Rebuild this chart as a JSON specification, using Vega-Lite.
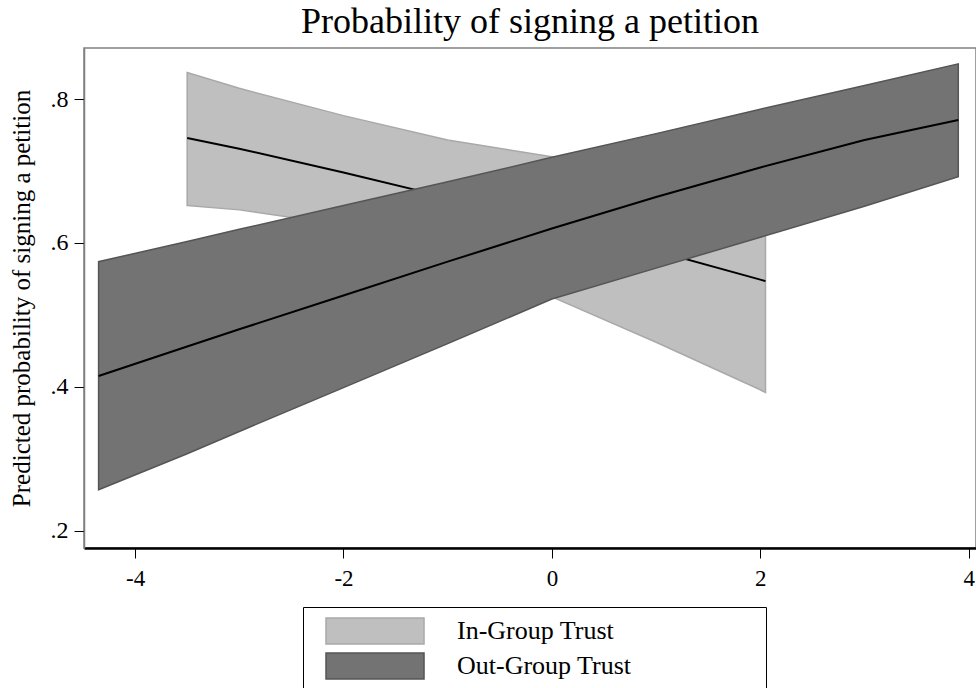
{
  "$schema": "https://vega.github.io/schema/vega-lite/v6.json",
  "width": 892,
  "height": 500,
  "autosize": {"type": "none"},
  "padding": {"left": 84, "top": 48, "right": 0, "bottom": 140},
  "background": "white",
  "config": {
    "font": "Liberation Serif",
    "view": {"stroke": "#808080", "strokeWidth": 1.5},
    "axis": {"grid": false, "labelFont": "Liberation Serif", "titleFont": "Liberation Serif", "labelColor": "black", "titleColor": "black", "tickColor": "black", "titleFontWeight": "normal"}
  },
  "title": {"text": "Probability of signing a petition", "font": "Liberation Serif", "fontSize": 36, "fontWeight": "normal", "color": "black", "offset": 7},
  "data": {"values": [
    {"group": "In-Group Trust", "x": -3.5, "lo": 0.652, "p": 0.746, "hi": 0.837},
    {"group": "In-Group Trust", "x": -3, "lo": 0.646, "p": 0.731, "hi": 0.815},
    {"group": "In-Group Trust", "x": -2, "lo": 0.625, "p": 0.698, "hi": 0.777},
    {"group": "In-Group Trust", "x": -1, "lo": 0.58, "p": 0.663, "hi": 0.743},
    {"group": "In-Group Trust", "x": 0, "lo": 0.525, "p": 0.627, "hi": 0.72},
    {"group": "In-Group Trust", "x": 1, "lo": 0.462, "p": 0.589, "hi": 0.703},
    {"group": "In-Group Trust", "x": 2, "lo": 0.396, "p": 0.549, "hi": 0.695},
    {"group": "In-Group Trust", "x": 2.05, "lo": 0.392, "p": 0.547, "hi": 0.694},
    {"group": "Out-Group Trust", "x": -4.35, "lo": 0.257, "p": 0.415, "hi": 0.574},
    {"group": "Out-Group Trust", "x": -3.5, "lo": 0.307, "p": 0.456, "hi": 0.602},
    {"group": "Out-Group Trust", "x": -3, "lo": 0.338, "p": 0.48, "hi": 0.619},
    {"group": "Out-Group Trust", "x": -2, "lo": 0.399, "p": 0.527, "hi": 0.652},
    {"group": "Out-Group Trust", "x": -1, "lo": 0.46, "p": 0.574, "hi": 0.685},
    {"group": "Out-Group Trust", "x": 0, "lo": 0.522, "p": 0.62, "hi": 0.719},
    {"group": "Out-Group Trust", "x": 1, "lo": 0.565, "p": 0.664, "hi": 0.752},
    {"group": "Out-Group Trust", "x": 2, "lo": 0.608, "p": 0.705, "hi": 0.786},
    {"group": "Out-Group Trust", "x": 3, "lo": 0.651, "p": 0.743, "hi": 0.819},
    {"group": "Out-Group Trust", "x": 3.9, "lo": 0.692, "p": 0.771, "hi": 0.849}
  ]},
  "encoding": {
    "x": {"field": "x", "type": "quantitative", "scale": {"domain": [-4.49, 4.07], "nice": false, "zero": false},
      "axis": {"title": null, "values": [-4, -2, 0, 2, 4], "labelExpr": "replace(datum.label, '\u2212', '-')", "labelFontSize": 23, "tickSize": 10, "labelPadding": 9, "domainColor": "black", "domainWidth": 2.5, "tickWidth": 1}},
    "y": {"field": "lo", "type": "quantitative", "scale": {"domain": [0.176, 0.871], "nice": false, "zero": false},
      "axis": {"title": "Predicted probability of signing a petition", "values": [0.2, 0.4, 0.6, 0.8], "labelExpr": "substring(format(datum.value, '.1f'), 1)", "labelFontSize": 24, "titleFontSize": 25, "tickSize": 10, "labelPadding": 6, "titlePadding": 16, "domainColor": "#808080", "domainWidth": 1.5, "tickWidth": 1}}
  },
  "layer": [
    {
      "transform": [{"filter": "datum.group == 'In-Group Trust'"}],
      "mark": {"type": "area", "strokeWidth": 1.5},
      "encoding": {
        "y2": {"field": "hi"},
        "fill": {"field": "group", "type": "nominal", "scale": {"domain": ["In-Group Trust", "Out-Group Trust"], "range": ["#bfbfbf", "#737373"]},
          "legend": {"title": null, "orient": "none", "legendX": 219, "legendY": 559, "direction": "vertical", "strokeColor": "black", "padding": 10, "symbolOffset": 12,
            "symbolType": "M-1,-1H6.54V1H-1Z", "symbolSize": 676, "symbolStrokeWidth": 1.5, "labelOffset": 104, "labelFont": "Liberation Serif", "labelFontSize": 26, "labelColor": "black", "labelLimit": 0, "rowPadding": 3,
            "labelExpr": "datum.label + '\u00a0\u00a0\u00a0\u00a0\u00a0\u00a0\u00a0\u00a0\u00a0\u00a0\u00a0\u00a0\u00a0\u00a0\u00a0\u00a0\u00a0\u00a0\u00a0\u200b'"}},
        "stroke": {"field": "group", "type": "nominal", "scale": {"domain": ["In-Group Trust", "Out-Group Trust"], "range": ["#a9a9a9", "#555555"]},
          "legend": {"title": null, "orient": "none", "legendX": 219, "legendY": 559, "direction": "vertical", "strokeColor": "black", "padding": 10, "symbolOffset": 12,
            "symbolType": "M-1,-1H6.54V1H-1Z", "symbolSize": 676, "symbolStrokeWidth": 1.5, "labelOffset": 104, "labelFont": "Liberation Serif", "labelFontSize": 26, "labelColor": "black", "labelLimit": 0, "rowPadding": 3,
            "labelExpr": "datum.label + '\u00a0\u00a0\u00a0\u00a0\u00a0\u00a0\u00a0\u00a0\u00a0\u00a0\u00a0\u00a0\u00a0\u00a0\u00a0\u00a0\u00a0\u00a0\u00a0\u200b'"}}
      }
    },
    {
      "transform": [{"filter": "datum.group == 'In-Group Trust'"}],
      "mark": {"type": "line", "color": "black", "strokeWidth": 2},
      "encoding": {"y": {"field": "p", "type": "quantitative"}}
    },
    {
      "transform": [{"filter": "datum.group == 'Out-Group Trust'"}],
      "mark": {"type": "area", "strokeWidth": 1.5},
      "encoding": {
        "y2": {"field": "hi"},
        "fill": {"field": "group", "type": "nominal"},
        "stroke": {"field": "group", "type": "nominal"}
      }
    },
    {
      "transform": [{"filter": "datum.group == 'Out-Group Trust'"}],
      "mark": {"type": "line", "color": "black", "strokeWidth": 2},
      "encoding": {"y": {"field": "p", "type": "quantitative"}}
    }
  ]
}
